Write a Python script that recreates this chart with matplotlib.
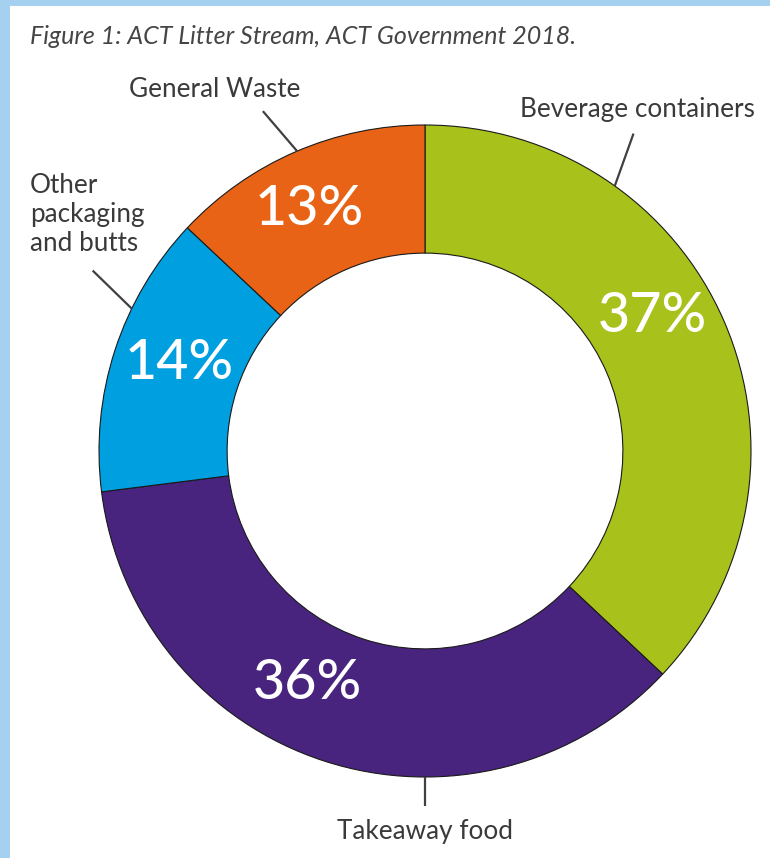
import matplotlib
matplotlib.use('Agg')
import matplotlib.pyplot as plt
from matplotlib.patches import Rectangle
import numpy as np

# data (clockwise from 12 o'clock)
categories = ['Beverage containers', 'Takeaway food', 'Other\npackaging\nand butts', 'General Waste']
shares = [37, 36, 14, 13]
colors = ['#a8c11b', '#48247e', '#009fe0', '#e86315']
pct_labels = ['37%', '36%', '14%', '13%']

# where the % labels and callouts sit (angle in degrees, radius in donut units)
pct_angle = [30.6, -116.8, 160.4, 115.6]
pct_radius = [0.81, 0.80, 0.80, 0.82]
leader_angle = [(54.4, 56.7), (-90, -90), (154.1, 151.5), (113.1, 115.5)]
leader_radius = [(1.0, 1.165), (1.0, 1.09), (1.0, 1.16), (1.0, 1.155)]

plt.rcParams['font.family'] = ['Lato', 'DejaVu Sans']

fig = plt.figure(figsize=(7.7, 8.58), dpi=100, facecolor='#a6d0f0')
fig.patches.append(Rectangle((10 / 770, 0), 1, 852 / 858, transform=fig.transFigure,
                             facecolor='white', edgecolor='none', zorder=-5))

ax = fig.add_axes([0, 0, 1, 1])
ax.set_facecolor('none')
ax.set_zorder(2)
ax.pie(shares, colors=colors, startangle=90, counterclock=False, radius=1.0,
       wedgeprops=dict(width=0.393, edgecolor='#1a1a1a', linewidth=0.8))
ax.set_xlim(-425 / 326, 345 / 326)
ax.set_ylim(-407 / 326, 451 / 326)
ax.set_aspect('equal')
ax.axis('off')

for lab, a, r in zip(pct_labels, pct_angle, pct_radius):
    t = np.deg2rad(a)
    ax.text(r * np.cos(t), r * np.sin(t), lab, color='white', fontsize=40,
            fontweight='medium', ha='center', va='center')

txt_color = '#3a3a3a'
for (a0, a1), (r0, r1) in zip(leader_angle, leader_radius):
    t0, t1 = np.deg2rad(a0), np.deg2rad(a1)
    ax.plot([r0 * np.cos(t0), r1 * np.cos(t1)], [r0 * np.sin(t0), r1 * np.sin(t1)],
            color='#404040', lw=1.6, solid_capstyle='butt')

# category labels
fs = 18.8
ax.text(0.651, 1.049, categories[0], fontsize=fs, color=txt_color, ha='center', va='center')
ax.text(0.0, -1.167, categories[1], fontsize=fs, color=txt_color, ha='center', va='center')
ax.text(-1.212, 0.724, categories[2], fontsize=fs, color=txt_color, ha='left', va='center',
        linespacing=1.2)
ax.text(-0.644, 1.110, categories[3], fontsize=fs, color=txt_color, ha='center', va='center')

fig.text(30 / 770, 1 - 37 / 858, 'Figure 1: ACT Litter Stream, ACT Government 2018.',
         fontsize=18, style='italic', color='#454545', ha='left', va='center')

fig.savefig('out.png', dpi=100, facecolor=fig.get_facecolor())
